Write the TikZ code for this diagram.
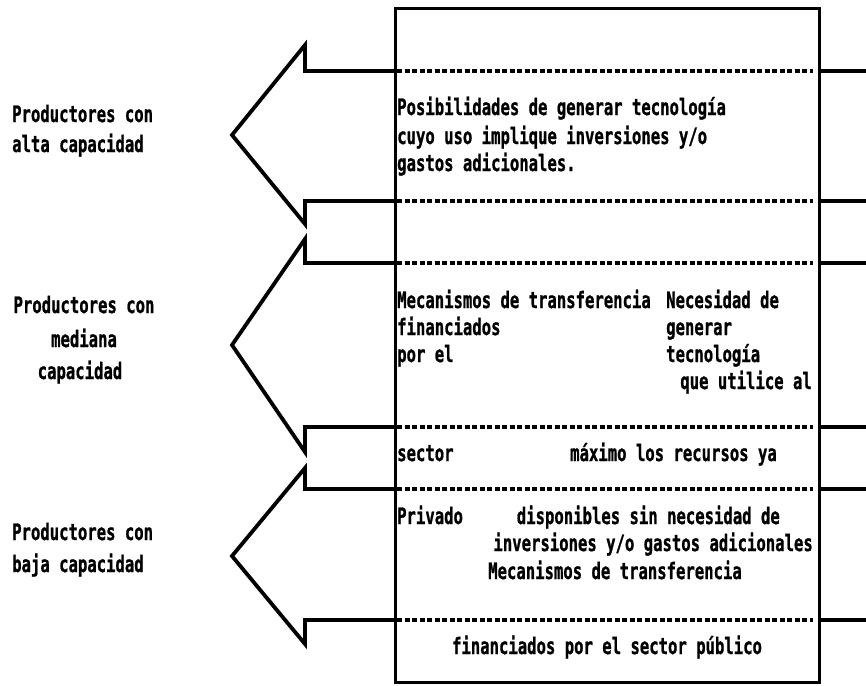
\documentclass[tikz,border=0pt]{standalone}
\usepackage{fontspec}
\usepackage{graphicx}
\newfontfamily\monob{DejaVu Sans Mono}[FakeBold=1.2]
\newcommand\T[1]{\scalebox{1}[1.45]{#1}}
\tikzset{
  txt/.style={inner sep=0pt, font=\monob\bfseries\fontsize{15.6}{18}\selectfont},
  solidl/.style={line width=3.8pt, line join=miter},
  boxl/.style={line width=2.8pt},
  dashl/.style={line width=3.2pt, dash pattern=on 5pt off 2.5pt},
}
\begin{document}
\begin{tikzpicture}[x=1pt,y=-1pt]
\useasboundingbox (0,0) rectangle (866,685);
% frame
\node[draw, boxl, minimum width=424pt, minimum height=674pt, anchor=north west, inner sep=0pt] (box) at (394,7) {};
% arrows: shaft top, shaft bottom, head top, head bottom, tip
\foreach \n/\yt/\yb/\ht/\hb/\ty in {1/71/201/45/224/135, 2/263/427/239/452/345, 3/489/620/468/644/556}{
  \coordinate (t\n) at (232,\ty);
  \coordinate (a\n) at (394,\yt);
  \coordinate (b\n) at (394,\yb);
  \coordinate (c\n) at (818,\yt);
  \coordinate (d\n) at (818,\yb);
  \coordinate (e\n) at (868,\yt);
  \coordinate (f\n) at (868,\yb);
  \draw[solidl] (a\n) -- (305,\yt) -- (305,\ht) -- (t\n) -- (305,\hb) -- (305,\yb) -- (b\n);
  \draw[solidl] (c\n) -- (e\n);
  \draw[solidl] (d\n) -- (f\n);
  \draw[dashl] ([xshift=3pt]a\n) -- ([xshift=-5pt]c\n);
  \draw[dashl] ([xshift=3pt]b\n) -- ([xshift=-5pt]d\n);
}
% left labels
\node[txt, anchor=base west] (l1a) at (12,122) {\T{Productores con}};
\node[txt, anchor=base west] (l1b) at (12,152) {\T{alta capacidad}};
\node[txt, anchor=base] (l2a) at (84,313) {\T{Productores con}};
\node[txt, anchor=base] (l2b) at (84,347) {\T{mediana}};
\node[txt, anchor=base] (l2c) at (80,379) {\T{capacidad}};
\node[txt, anchor=base west] (l3a) at (12,540) {\T{Productores con}};
\node[txt, anchor=base west] (l3b) at (12,572) {\T{baja capacidad}};
% block 1
\node[txt, anchor=base west] (p1) at (397,115) {\T{Posibilidades de generar tecnología}};
\node[txt, anchor=base west] (p2) at (397,144) {\T{cuyo uso implique inversiones y/o}};
\node[txt, anchor=base west] (p3) at (397,171) {\T{gastos adicionales.}};
% block 2
\node[txt, anchor=base west] (m1) at (397,308) {\T{Mecanismos de transferencia}};
\node[txt, anchor=base west] (m2) at (397,335) {\T{financiados}};
\node[txt, anchor=base west] (m3) at (397,362) {\T{por el}};
\node[txt, anchor=base west] (n1) at (666,308) {\T{Necesidad de}};
\node[txt, anchor=base west] (n2) at (666,335) {\T{generar}};
\node[txt, anchor=base west] (n3) at (666,362) {\T{tecnología}};
\node[txt, anchor=base east] (n4) at (812,389) {\T{que utilice al}};
% block 3
\node[txt, anchor=base west] (s1) at (397,461) {\T{sector}};
\node[txt, anchor=base east] (s2) at (777,461) {\T{máximo los recursos ya}};
\node[txt, anchor=base west] (q1) at (397,524) {\T{Privado}};
\node[txt, anchor=base east] (q2) at (780,524) {\T{disponibles sin necesidad de}};
\node[txt, anchor=base east] (q3) at (813,551) {\T{inversiones y/o gastos adicionales}};
\node[txt, anchor=base east] (q4) at (742,579) {\T{Mecanismos de transferencia}};
% block 4
\node[txt, anchor=base] (r1) at (607,654) {\T{financiados por el sector público}};
\end{tikzpicture}
\end{document}
